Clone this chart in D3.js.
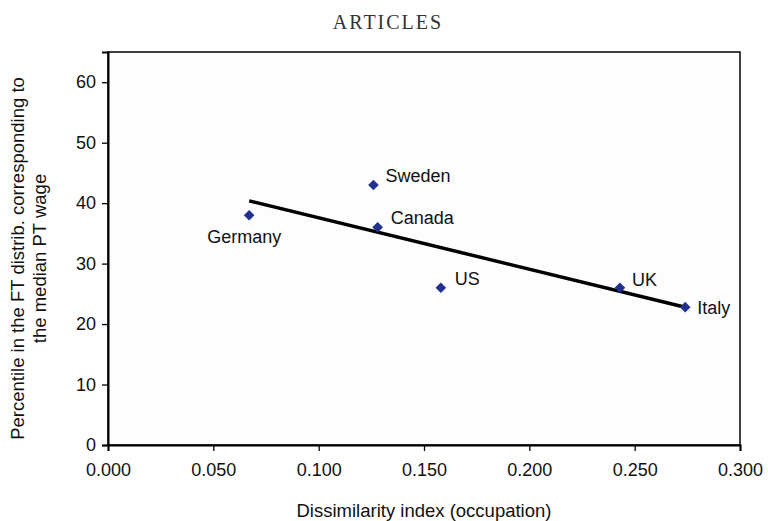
<!DOCTYPE html>
<html>
<head>
<meta charset="utf-8">
<script src="https://cdn.jsdelivr.net/npm/d3@7"></script>
<style>
  body { margin: 0; background: #fff; }
  text { font-family: "Liberation Sans", Arial, sans-serif; fill: #111; }
</style>
</head>
<body>
<div id="chart"></div>
<script>
const countries = ["Germany", "Sweden", "Canada", "US", "UK", "Italy"];
const dissimilarity = [0.067, 0.126, 0.128, 0.158, 0.243, 0.274];
const percentile = [38.0, 43.0, 36.0, 26.0, 26.0, 22.8];
const xTicks = [0, 0.05, 0.1, 0.15, 0.2, 0.25, 0.3];
const yTicks = [0, 10, 20, 30, 40, 50, 60];

const W = 768, H = 521;
const margin = { top: 52, right: 28, bottom: 76, left: 108 };
const width = W - margin.left - margin.right;
const height = H - margin.top - margin.bottom;

const svg = d3.select("#chart").append("svg")
    .attr("width", W)
    .attr("height", H);

svg.append("text")
    .attr("x", W / 2 + 4)
    .attr("y", 29)
    .attr("text-anchor", "middle")
    .style("font-family", "'Liberation Serif', 'DejaVu Serif', serif")
    .style("font-size", "20px")
    .style("letter-spacing", "2px")
    .style("fill", "#333")
    .text("ARTICLES");

const g = svg.append("g")
    .attr("transform", `translate(${margin.left}, ${margin.top})`);

const x = d3.scaleLinear().domain([0, 0.3]).range([0, width]);
const y = d3.scaleLinear().domain([0, 65]).range([height, 0]);

// frame
g.append("rect")
    .attr("width", width)
    .attr("height", height)
    .attr("fill", "#fdfdfe")
    .attr("stroke", "#000")
    .attr("stroke-width", 1.5);

// axes
const xAxis = g.append("g")
    .attr("transform", `translate(0, ${height})`)
    .call(d3.axisBottom(x).tickValues(xTicks).tickFormat(d3.format(".3f")).tickSizeOuter(0).tickSize(6).tickPadding(12));

const yAxis = g.append("g")
    .call(d3.axisLeft(y).tickValues(yTicks).tickFormat(d3.format("d")).tickSizeOuter(0).tickSize(6).tickPadding(6));

[xAxis, yAxis].forEach(a => {
    a.select(".domain").attr("stroke", "#000").attr("stroke-width", 2);
    a.selectAll(".tick line").attr("stroke", "#000").attr("stroke-width", 1.3);
    a.selectAll(".tick text")
        .style("font-family", "'Liberation Sans', Arial, sans-serif")
        .style("font-size", "18px")
        .style("fill", "#111");
});

// least-squares trend line
const mx = d3.mean(dissimilarity), my = d3.mean(percentile);
const sxy = d3.sum(dissimilarity, (d, i) => (d - mx) * (percentile[i] - my));
const sxx = d3.sum(dissimilarity, d => (d - mx) * (d - mx));
const slope = sxy / sxx, intercept = my - slope * mx;
const xExt = d3.extent(dissimilarity);

g.append("path")
    .datum(xExt)
    .attr("fill", "none")
    .attr("stroke", "#000")
    .attr("stroke-width", 3.5)
    .attr("d", d3.line()
        .x(d => x(d))
        .y(d => y(intercept + slope * d)));

// points
const points = countries.map((c, i) => ({ name: c, x: dissimilarity[i], y: percentile[i] }));

g.selectAll(".pt")
    .data(points)
    .enter()
    .append("path")
    .attr("class", "pt")
    .attr("transform", d => `translate(${x(d.x)}, ${y(d.y)})`)
    .attr("d", d3.symbol().type(d3.symbolDiamond2).size(72))
    .attr("fill", "#22318c");

// labels
const labelOffset = {
    Germany: [-42, 28],
    Sweden: [12, -3],
    Canada: [13, -3],
    US: [14, -3],
    UK: [12, -2],
    Italy: [12, 7]
};

g.selectAll(".lbl")
    .data(points)
    .enter()
    .append("text")
    .attr("class", "lbl")
    .attr("x", d => x(d.x) + labelOffset[d.name][0])
    .attr("y", d => y(d.y) + labelOffset[d.name][1])
    .style("font-size", "18px")
    .text(d => d.name);

// axis titles
svg.append("text")
    .attr("x", margin.left + width / 2)
    .attr("y", 517)
    .attr("text-anchor", "middle")
    .style("font-size", "18.5px")
    .text("Dissimilarity index (occupation)");

const yTitle = svg.append("text")
    .attr("transform", `translate(24, ${margin.top + height / 2 + 10}) rotate(-90)`)
    .attr("text-anchor", "middle")
    .style("font-size", "18.5px");
yTitle.append("tspan").attr("x", 0).attr("dy", 0).text("Percentile in the FT distrib. corresponding to");
yTitle.append("tspan").attr("x", 0).attr("dy", 22).text("the median PT wage");
</script>
</body>
</html>
